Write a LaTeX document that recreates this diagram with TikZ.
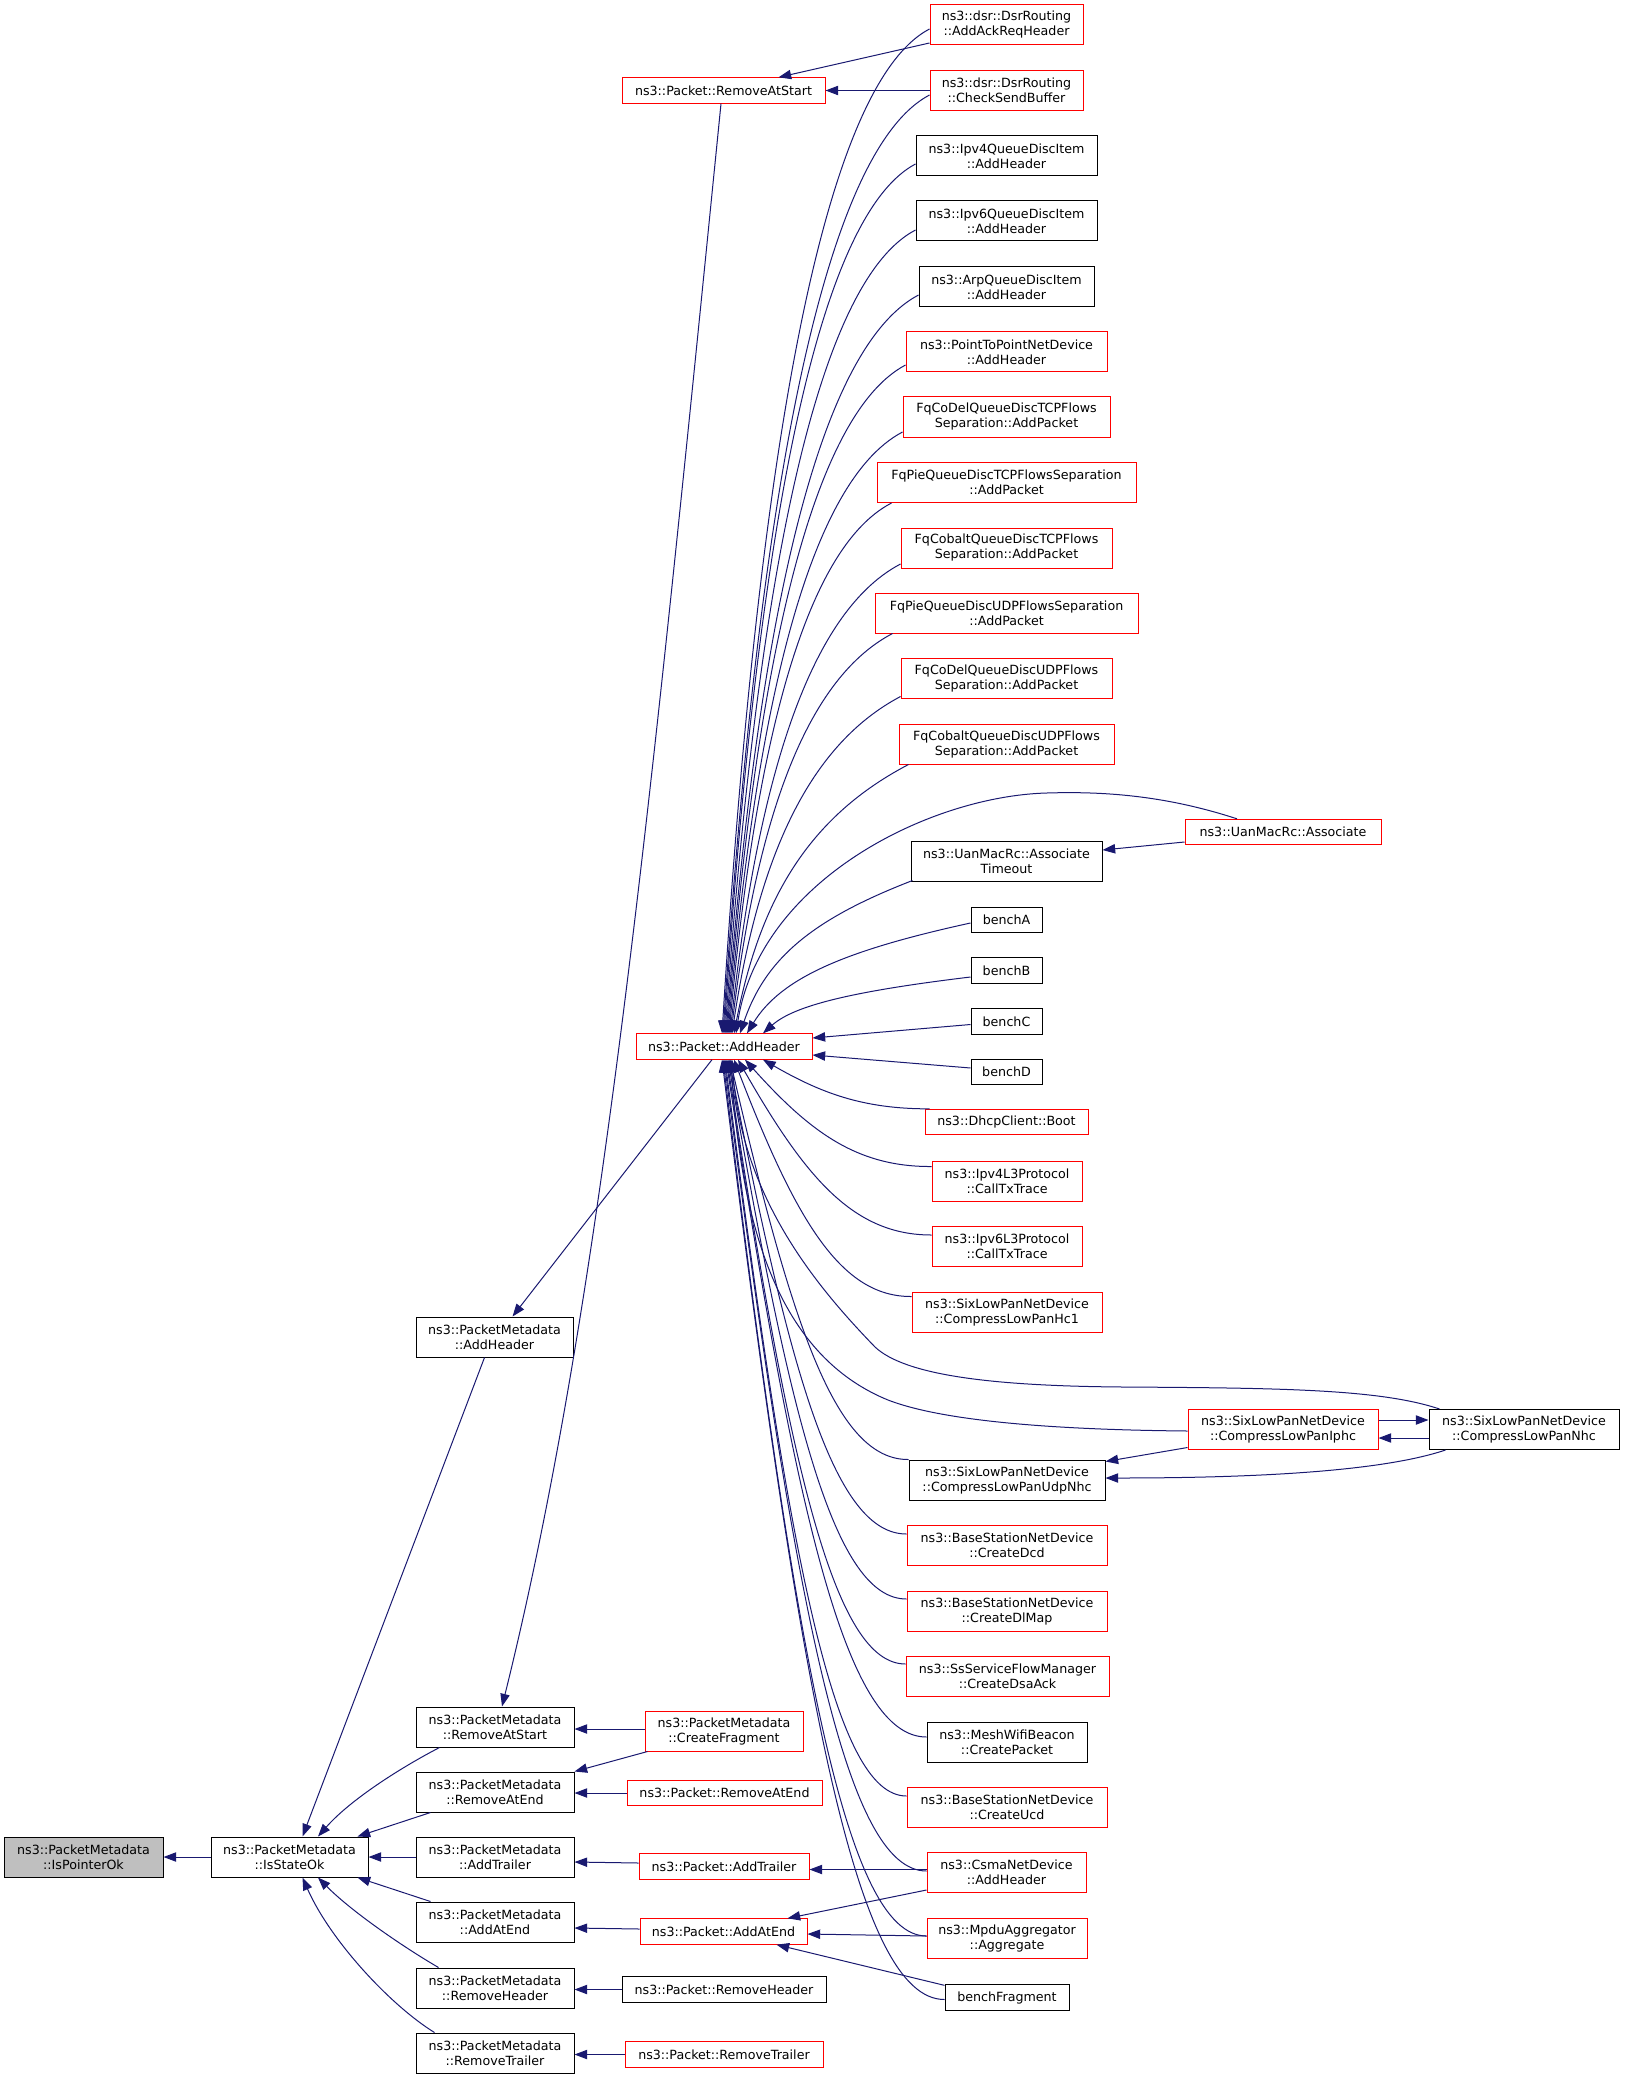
\documentclass[tikz,border=0pt]{standalone}
\usepackage{fontspec}
\setmainfont{DejaVu Sans}
\usetikzlibrary{arrows.meta,calc}
\definecolor{edgeblue}{RGB}{25,25,112}
\definecolor{nodegray}{RGB}{191,191,191}
\begin{document}
\begin{tikzpicture}[x=0.75pt,y=-0.75pt,
  bx/.style={draw=black, fill=white, line width=0.75pt, inner sep=0pt, align=center,
             font=\fontsize{9.5pt}{11.25pt}\selectfont, minimum height=30pt},
  rd/.style={bx, draw=red},
  one/.style={minimum height=19pt},
  wd/.style={minimum width=#1*0.75pt},
  edge/.style={draw=edgeblue, line width=0.75pt, -{Triangle[length=9.5pt,width=7pt]}}
]
\useasboundingbox (0,0) rectangle (1624,2079);

% ---------- left part
\node[bx,wd=159,fill=nodegray] (ptr) at (83.5,1857) {ns3::PacketMetadata\\::IsPointerOk};
\node[bx,wd=157] (sok) at (289.5,1857) {ns3::PacketMetadata\\::IsStateOk};
\node[bx,wd=157] (pmah) at (494.5,1337) {ns3::PacketMetadata\\::AddHeader};
\node[bx,wd=158] (pmras) at (495,1727) {ns3::PacketMetadata\\::RemoveAtStart};
\node[bx,wd=158] (pmrae) at (495,1792) {ns3::PacketMetadata\\::RemoveAtEnd};
\node[bx,wd=158] (pmat) at (495,1857) {ns3::PacketMetadata\\::AddTrailer};
\node[bx,wd=158] (pmaae) at (495,1922) {ns3::PacketMetadata\\::AddAtEnd};
\node[bx,wd=158] (pmrh) at (495,1988) {ns3::PacketMetadata\\::RemoveHeader};
\node[bx,wd=158] (pmrt) at (495,2053) {ns3::PacketMetadata\\::RemoveTrailer};

% ---------- middle column
\node[rd,one,wd=203] (pras) at (723.5,90.5) {ns3::Packet::RemoveAtStart};
\node[rd,one,wd=176] (pah) at (724,1046.5) {ns3::Packet::AddHeader};
\node[rd,wd=158] (pcf) at (724,1731) {ns3::PacketMetadata\\::CreateFragment};
\node[rd,one,wd=195] (prae) at (724.5,1793) {ns3::Packet::RemoveAtEnd};
\node[rd,one,wd=170] (pat) at (724,1866.5) {ns3::Packet::AddTrailer};
\node[rd,one,wd=167] (paae) at (723.5,1931.5) {ns3::Packet::AddAtEnd};
\node[bx,one,wd=204] (prh) at (724,1989.5) {ns3::Packet::RemoveHeader};
\node[rd,one,wd=198] (prt) at (724,2054.5) {ns3::Packet::RemoveTrailer};

% ---------- right column
\node[rd,wd=153] (ack) at (1006.5,25) {ns3::dsr::DsrRouting\\::AddAckReqHeader};
\node[rd,wd=153] (csb) at (1006.5,90.5) {ns3::dsr::DsrRouting\\::CheckSendBuffer};
\node[bx,wd=181] (ipv4q) at (1006.5,156) {ns3::Ipv4QueueDiscItem\\::AddHeader};
\node[bx,wd=181] (ipv6q) at (1006.5,221) {ns3::Ipv6QueueDiscItem\\::AddHeader};
\node[bx,wd=175] (arpq) at (1006.5,287) {ns3::ArpQueueDiscItem\\::AddHeader};
\node[rd,wd=201] (p2p) at (1006.5,352) {ns3::PointToPointNetDevice\\::AddHeader};
\node[rd,wd=207] (fcdt) at (1006.5,417) {FqCoDelQueueDiscTCPFlows\\Separation::AddPacket};
\node[rd,wd=259] (fpt) at (1006.5,482.5) {FqPieQueueDiscTCPFlowsSeparation\\::AddPacket};
\node[rd,wd=211] (fcbt) at (1006.5,548) {FqCobaltQueueDiscTCPFlows\\Separation::AddPacket};
\node[rd,wd=263] (fpu) at (1006.5,613) {FqPieQueueDiscUDPFlowsSeparation\\::AddPacket};
\node[rd,wd=211] (fcdu) at (1006.5,678.5) {FqCoDelQueueDiscUDPFlows\\Separation::AddPacket};
\node[rd,wd=215] (fcbu) at (1006.5,744) {FqCobaltQueueDiscUDPFlows\\Separation::AddPacket};
\node[rd,one,wd=196] (uan) at (1283,832) {ns3::UanMacRc::Associate};
\node[bx,wd=191] (uant) at (1006.5,861) {ns3::UanMacRc::Associate\\Timeout};
\node[bx,one,wd=71] (bA) at (1006.5,920) {benchA};
\node[bx,one,wd=71] (bB) at (1006.5,970.5) {benchB};
\node[bx,one,wd=71] (bC) at (1006.5,1021.5) {benchC};
\node[bx,one,wd=71] (bD) at (1006.5,1072) {benchD};
\node[rd,one,wd=163] (boot) at (1006.5,1122) {ns3::DhcpClient::Boot};
\node[rd,wd=150] (i4l3) at (1007,1181) {ns3::Ipv4L3Protocol\\::CallTxTrace};
\node[rd,wd=150] (i6l3) at (1007,1246.5) {ns3::Ipv6L3Protocol\\::CallTxTrace};
\node[rd,wd=190] (hc1) at (1007,1312) {ns3::SixLowPanNetDevice\\::CompressLowPanHc1};
\node[rd,wd=190] (iphc) at (1283,1429) {ns3::SixLowPanNetDevice\\::CompressLowPanIphc};
\node[bx,wd=190] (nhc) at (1524,1429.5) {ns3::SixLowPanNetDevice\\::CompressLowPanNhc};
\node[bx,wd=196] (udp) at (1007,1480) {ns3::SixLowPanNetDevice\\::CompressLowPanUdpNhc};
\node[rd,wd=200] (dcd) at (1007,1545) {ns3::BaseStationNetDevice\\::CreateDcd};
\node[rd,wd=200] (dlmap) at (1007,1611) {ns3::BaseStationNetDevice\\::CreateDlMap};
\node[rd,wd=203] (dsa) at (1007.5,1676) {ns3::SsServiceFlowManager\\::CreateDsaAck};
\node[bx,wd=160] (mesh) at (1007,1742) {ns3::MeshWifiBeacon\\::CreatePacket};
\node[rd,wd=200] (ucd) at (1007,1807) {ns3::BaseStationNetDevice\\::CreateUcd};
\node[rd,wd=159] (csma) at (1006.5,1872.5) {ns3::CsmaNetDevice\\::AddHeader};
\node[rd,wd=160] (mpdu) at (1007,1938.5) {ns3::MpduAggregator\\::Aggregate};
\node[bx,one,wd=124] (bfrag) at (1007,1997.5) {benchFragment};

% ---------- edges into Packet::AddHeader from above
\draw[edge] ($(ack.west)+(0,4)$) .. controls (811,91) and (753,532) .. ($(pah.north)+(-2,0)$);
\draw[edge] ($(csb.west)+(0,4.5)$) .. controls (812,157) and (754,564) .. ($(pah.north)+(-1,0)$);
\draw[edge] ($(ipv4q.west)+(0,8)$) .. controls (806,222) and (753,599) .. (pah.north);
\draw[edge] ($(ipv6q.west)+(0,9)$) .. controls (807,287) and (754,632) .. ($(pah.north)+(1,0)$);
\draw[edge] ($(arpq.west)+(0,8)$) .. controls (809,353) and (755,664) .. ($(pah.north)+(2,0)$);
\draw[edge] ($(p2p.west)+(0,13)$) .. controls (804,419) and (754,700) .. ($(pah.north)+(3,0)$);
\draw[edge] ($(fcdt.west)+(0,15)$) .. controls (803,484.5) and (754,733) .. ($(pah.north)+(4,0)$);
\draw[edge] ($(fpt.south west)+(15,0)$) .. controls (799,551) and (753.5,768) .. ($(pah.north)+(5,0)$);
\draw[edge] ($(fcbt.west)+(0,16)$) .. controls (803.5,615) and (755.6,799) .. ($(pah.north)+(6,0)$);
\draw[edge] ($(fpu.south west)+(18,0)$) .. controls (800.7,681.6) and (755.3,833.5) .. ($(pah.north)+(7,0)$);
\draw[edge] ($(fcdu.west)+(0,18)$) .. controls (804.7,747.2) and (757.4,865.3) .. ($(pah.north)+(8,0)$);
\draw[edge] ($(fcbu.south west)+(10,0)$) .. controls (809,816.5) and (760,899) .. ($(pah.north)+(10,0)$);
\draw[edge] ($(uant.south west)+(2,-1)$) .. controls (814.4,918.5) and (766,957) .. ($(pah.north)+(16,0)$);
\draw[edge] ($(uan.north)+(-46,0)$) .. controls (1170,797) and (1110,791) .. (1047,793)
            .. controls (930,796) and (760,880) .. ($(pah.north)+(12,0)$);
\draw[edge] ($(bA.west)+(0,3)$) .. controls (843.3,950.75) and (780.6,978.5) .. ($(pah.north)+(23,0)$);
\draw[edge] ($(bB.west)+(0,6.5)$) .. controls (852.4,991.25) and (794.2,1005.5) .. ($(pah.north)+(39,0)$);
% from the right
\draw[edge] ($(bC.west)+(0,3)$) -- ($(pah.east)+(0,-8.5)$);
\draw[edge] ($(bD.west)+(0,-4)$) -- ($(pah.east)+(0,8.5)$);
% from below
\draw[edge] ($(boot.north west)+(5,0)$) .. controls (863,1109) and (821,1093) .. ($(pah.south)+(39,0)$);
\draw[edge] ($(i4l3.north west)+(0,6)$) .. controls (857,1167) and (810,1132) .. ($(pah.south)+(21,0)$);
\draw[edge] ($(i6l3.west)+(0,-11.5)$) .. controls (854,1235) and (806,1179) .. ($(pah.south)+(14,0)$);
\draw[edge] ($(hc1.north west)+(0,5)$) .. controls (841,1297) and (796,1221) .. ($(pah.south)+(10,0)$);
\draw[edge] ($(nhc.north west)+(11,0)$) .. controls (1380,1389) and (1280,1388) .. (1123,1387)
            .. controls (990,1386) and (905,1375) .. (875,1347)
            .. controls (820,1290) and (742,1200) .. ($(pah.south)+(8,0)$);
\draw[edge] ($(iphc.west)+(0,2)$) .. controls (1080,1430) and (950,1424) .. (888,1400)
            .. controls (790,1360) and (742,1250) .. ($(pah.south)+(7,0)$);
\draw[edge] (udp.north west) .. controls (837,1460) and (793,1332) .. ($(pah.south)+(6,0)$);
\draw[edge] ($(dcd.west)+(0,-11)$) .. controls (836,1534) and (791,1382) .. ($(pah.south)+(5,0)$);
\draw[edge] ($(dlmap.west)+(0,-12)$) .. controls (835.4,1599) and (790.7,1426) .. ($(pah.south)+(4,0)$);
\draw[edge] ($(dsa.west)+(0,-12)$) .. controls (834.4,1664) and (789.7,1470) .. ($(pah.south)+(3,0)$);
\draw[edge] ($(mesh.west)+(0,-5)$) .. controls (846.6,1737) and (796.4,1520) .. ($(pah.south)+(2,0)$);
\draw[edge] ($(ucd.west)+(0,-11)$) .. controls (834,1796) and (788.7,1560) .. ($(pah.south)+(1,0)$);
\draw[edge] ($(csma.west)+(0,-1.5)$) .. controls (845.8,1871) and (795,1611) .. (pah.south);
\draw[edge] ($(mpdu.west)+(0,-2.5)$) .. controls (845.4,1936) and (794.4,1655) .. ($(pah.south)+(-1,0)$);
\draw[edge] ($(bfrag.west)+(0,2)$) .. controls (855.8,1999.5) and (800,1698) .. ($(pah.south)+(-2,0)$);

% ---------- other right-hand edges
\draw[edge] ($(ack.west)+(0,18)$) -- ($(pras.north)+(55,0)$);
\draw[edge] (csb.west) -- (pras.east);
\draw[edge] ($(uan.west)+(0,10)$) -- ($(uant.east)+(0,-11)$);
\draw[edge] ($(iphc.east)+(0,-9)$) -- ($(nhc.west)+(0,-9.5)$);
\draw[edge] ($(nhc.west)+(0,8.5)$) -- ($(iphc.east)+(0,9)$);
\draw[edge] ($(iphc.south west)+(0,-2)$) -- ($(udp.north east)+(0,2)$);
\draw[edge] ($(nhc.south west)+(17,0)$) .. controls (1380,1472) and (1250,1478) .. ($(udp.east)+(0,-2)$);
\draw[edge] ($(csma.west)+(0,-3)$) -- ($(pat.east)+(0,3)$);
\draw[edge] ($(csma.south west)+(0,-3)$) -- ($(paae.north east)+(-20,0)$);
\draw[edge] ($(mpdu.west)+(0,-2.5)$) -- ($(paae.east)+(0,2.5)$);
\draw[edge] ($(bfrag.north west)+(0,1)$) -- ($(paae.south east)+(-31,0)$);

% ---------- middle to PacketMetadata
\draw[edge] ($(pah.south)+(-12,0)$) -- ($(pmah.north)+(18,0)$);
\draw[edge] ($(pras.south)+(-2.5,0)$) .. controls (651,803) and (602,1303) .. ($(pmras.north)+(7,0)$);
\draw[edge] ($(pcf.west)+(0,-2)$) -- ($(pmras.east)+(0,2)$);
\draw[edge] ($(pcf.south west)+(3,0)$) -- (pmrae.north east);
\draw[edge] (prae.west) -- ($(pmrae.east)+(0,1)$);
\draw[edge] ($(pat.west)+(0,-3.5)$) -- ($(pmat.east)+(0,5)$);
\draw[edge] ($(paae.west)+(0,-2.5)$) -- ($(pmaae.east)+(0,6)$);
\draw[edge] (prh.west) -- ($(pmrh.east)+(0,1.5)$);
\draw[edge] (prt.west) -- ($(pmrt.east)+(0,1.5)$);

% ---------- PacketMetadata to IsStateOk
\draw[edge] ($(pmah.south)+(-10,0)$) -- ($(sok.north)+(13,0)$);
\draw[edge] ($(pmras.south west)+(24,0)$) .. controls (400,1768) and (350,1800) .. ($(sok.north)+(28.5,0)$);
\draw[edge] ($(pmrae.south west)+(15,0)$) -- ($(sok.north east)+(-11,0)$);
\draw[edge] (pmat.west) -- (sok.east);
\draw[edge] ($(pmaae.north west)+(15,0)$) -- ($(sok.south east)+(-11,0)$);
\draw[edge] ($(pmrh.north west)+(23,0)$) .. controls (400,1945) and (350,1910) .. ($(sok.south)+(28.5,0)$);
\draw[edge] ($(pmrt.north west)+(19,0)$) .. controls (390,2005) and (330,1940) .. ($(sok.south)+(13,0)$);
\draw[edge] (sok.west) -- (ptr.east);
\end{tikzpicture}
\end{document}
